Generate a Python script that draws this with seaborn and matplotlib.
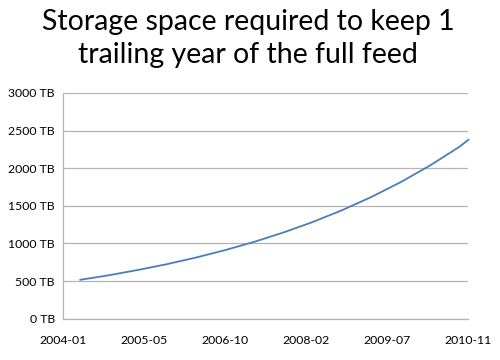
import numpy as np
import pandas as pd
import matplotlib
matplotlib.use("Agg")
import matplotlib.pyplot as plt
import matplotlib.dates as mdates
import seaborn as sns

# storage needed for a trailing year of the feed (TB)
dates = ["2004-04-15", "2004-10-01", "2005-04-01", "2005-10-01", "2006-04-01",
         "2006-10-01", "2007-04-01", "2007-10-01", "2008-04-01", "2008-10-01",
         "2009-04-01", "2009-10-01", "2010-04-01", "2010-10-01", "2010-12-01"]
storage_tb = [517, 574, 644, 722, 810, 909, 1019, 1144, 1283, 1440,
              1615, 1812, 2032, 2280, 2380]

tick_labels = ["2004-01", "2005-05", "2006-10", "2008-02", "2009-07", "2010-11"]
y_ticks = [0, 500, 1000, 1500, 2000, 2500, 3000]

df = pd.DataFrame({"date": pd.to_datetime(dates), "tb": storage_tb})

sns.set_style("white")
plt.rcParams["font.family"] = ["Lato", "DejaVu Sans"]

fig = plt.figure(figsize=(5, 3.6), dpi=100)
ax = fig.add_axes([0.1266, 0.1147, 0.81, 0.627])

sns.lineplot(data=df, x="date", y="tb", ax=ax, color="#4a7ebb", linewidth=1.3)
for ln in ax.lines:
    ln.set_clip_on(False)

x0 = mdates.date2num(pd.Timestamp("2004-01-01"))
x1 = mdates.date2num(pd.Timestamp("2010-11-29"))
ax.set_xlim(x0, x1)
ax.set_xticks(np.linspace(x0, x1, len(tick_labels)))
ax.set_xticklabels(tick_labels)
ax.set_ylim(0, 3000)
ax.set_yticks(y_ticks)
ax.set_yticklabels([f"{v} TB" for v in y_ticks])
ax.set_xlabel("")
ax.set_ylabel("")

ax.grid(axis="y", color="#b3b3b3", linewidth=0.9)
ax.set_axisbelow(True)
for side in ["top", "right"]:
    ax.spines[side].set_visible(False)
for side in ["left", "bottom"]:
    ax.spines[side].set_color("#b3b3b3")
    ax.spines[side].set_linewidth(0.9)
ax.tick_params(axis="both", direction="out", length=4, width=0.9,
               color="#b3b3b3", labelsize=8.8, labelcolor="black")
ax.tick_params(axis="x", pad=8)
ax.tick_params(axis="y", pad=2)

fig.text(0.496, 0.975, "Storage space required to keep 1\ntrailing year of the full feed",
         ha="center", va="top", fontsize=20.5, linespacing=1.32, color="black")

fig.savefig("out.png", dpi=100)
